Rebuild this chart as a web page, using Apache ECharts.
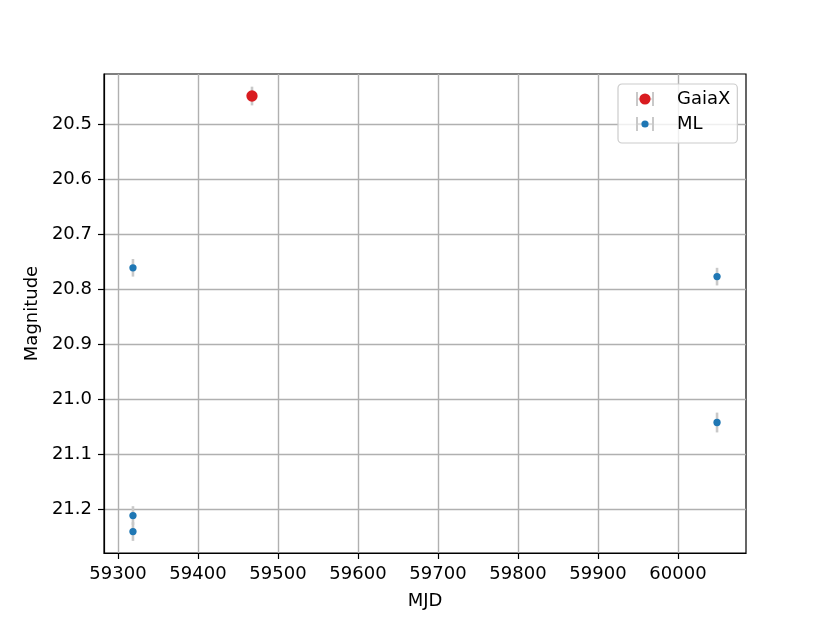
<!DOCTYPE html>
<html>
<head>
<meta charset="utf-8">
<script src="https://cdn.jsdelivr.net/npm/echarts@6/dist/echarts.min.js"></script>
<style>
html,body{margin:0;padding:0;background:#fff;}
#chart{width:830px;height:623px;}
</style>
</head>
<body>
<div id="chart"></div>
<script>
// ---- data ----
const gaiaMjd = [59467.5];
const gaiaMag = [20.449];
const gaiaErr = [0.017];

const mlMjd = [59318.7, 59318.7, 59318.7, 60048.8, 60048.8];
const mlMag = [20.761, 21.211, 21.240, 20.777, 21.042];
const mlErr = [0.016, 0.017, 0.017, 0.016, 0.018];

const xTicks = [59300, 59400, 59500, 59600, 59700, 59800, 59900, 60000];
const yTicks = [20.5, 20.6, 20.7, 20.8, 20.9, 21.0, 21.1, 21.2];
const xRange = [59282.5, 60085.0];
const yRange = [20.409, 21.279];

// ---- build ----
const gaiaPts = gaiaMjd.map((x, i) => [x, gaiaMag[i]]);
const mlPts = mlMjd.map((x, i) => [x, mlMag[i]]);
const gaiaBars = gaiaMjd.map((x, i) => [x, gaiaMag[i] - gaiaErr[i], gaiaMag[i] + gaiaErr[i]]);
const mlBars = mlMjd.map((x, i) => [x, mlMag[i] - mlErr[i], mlMag[i] + mlErr[i]]);

const RED = '#d91c20';
const BLUE = '#1f77b4';
const ERR = '#c9c9c9';
const FONT = 'DejaVu Sans';

function errRender(params, api) {
  const p1 = api.coord([api.value(0), api.value(1)]);
  const p2 = api.coord([api.value(0), api.value(2)]);
  return {
    type: 'line',
    shape: { x1: p1[0], y1: p1[1], x2: p2[0], y2: p2[1] },
    style: { stroke: ERR, lineWidth: 2.6 }
  };
}

function legendIcon(color, r) {
  const svg = '<svg xmlns="http://www.w3.org/2000/svg" width="36" height="18" viewBox="0 0 36 18">' +
    '<line x1="10" y1="9" x2="26" y2="9" stroke="' + ERR + '" stroke-width="1"/>' +
    '<line x1="10" y1="2" x2="10" y2="16" stroke="' + ERR + '" stroke-width="2"/>' +
    '<line x1="26" y1="2" x2="26" y2="16" stroke="' + ERR + '" stroke-width="2"/>' +
    '<circle cx="18" cy="9" r="' + r + '" fill="' + color + '"/></svg>';
  return 'image://data:image/svg+xml;charset=utf-8,' + encodeURIComponent(svg);
}

const axisCommon = {
  axisLine: { show: true, onZero: false, lineStyle: { color: '#000', width: 1.2 } },
  axisTick: { show: true, inside: false, length: 6, lineStyle: { color: '#000', width: 1.2 } },
  splitLine: { show: true, lineStyle: { color: '#b0b0b0', width: 1.4 } },
  nameTextStyle: { fontFamily: FONT, fontSize: 18, color: '#000' },
  nameLocation: 'middle'
};

const chart = echarts.init(document.getElementById('chart'), null, { renderer: 'canvas' });
chart.setOption({
  animation: false,
  backgroundColor: '#fff',
  grid: { left: 104, top: 74, right: 84, bottom: 70, show: true, borderColor: '#000', borderWidth: 1.2, backgroundColor: 'transparent' },
  xAxis: Object.assign({}, axisCommon, {
    type: 'value', min: xRange[0], max: xRange[1], splitNumber: 8,
    name: 'MJD', nameGap: 39,
    axisTick: Object.assign({}, axisCommon.axisTick, { customValues: xTicks }),
    axisLabel: { customValues: xTicks, fontFamily: FONT, fontSize: 18, color: '#000', margin: 12, formatter: v => String(v) }
  }),
  yAxis: Object.assign({}, axisCommon, {
    type: 'value', min: yRange[0], max: yRange[1], inverse: true, splitNumber: 8,
    name: 'Magnitude', nameGap: 58,
    axisTick: Object.assign({}, axisCommon.axisTick, { customValues: yTicks }),
    axisLabel: { customValues: yTicks, fontFamily: FONT, fontSize: 18, color: '#000', margin: 12, formatter: v => v.toFixed(1) }
  }),
  legend: {
    orient: 'vertical', left: 618, top: 84,
    padding: [6, 7, 10, 9],
    itemWidth: 36, itemHeight: 18, itemGap: 7,
    backgroundColor: 'rgba(255,255,255,0.8)',
    borderColor: '#cccccc', borderWidth: 1.2, borderRadius: 4,
    textStyle: { fontFamily: FONT, fontSize: 18, color: '#000', padding: [0, 0, 0, 9] },
    data: [
      { name: 'GaiaX', icon: legendIcon(RED, 5.6) },
      { name: 'ML', icon: legendIcon(BLUE, 3.6) }
    ]
  },
  series: [
    { type: 'custom', renderItem: errRender, data: gaiaBars, encode: { x: 0, y: [1, 2] }, silent: true, z: 1 },
    { type: 'custom', renderItem: errRender, data: mlBars, encode: { x: 0, y: [1, 2] }, silent: true, z: 1 },
    { name: 'GaiaX', type: 'scatter', data: gaiaPts, symbol: 'circle', symbolSize: 11.3, itemStyle: { color: RED, opacity: 1 }, z: 3 },
    { name: 'ML', type: 'scatter', data: mlPts, symbol: 'circle', symbolSize: 7.3, itemStyle: { color: BLUE, opacity: 1 }, z: 3 }
  ]
});
</script>
</body>
</html>
